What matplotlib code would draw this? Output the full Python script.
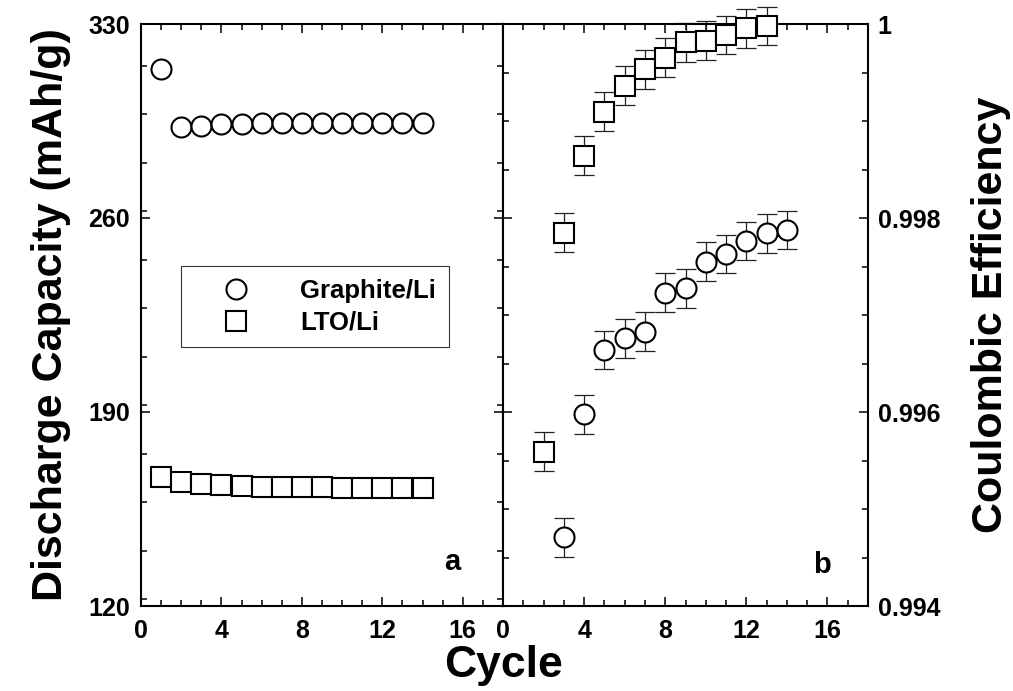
import matplotlib
matplotlib.use("Agg")
import matplotlib.pyplot as plt
from matplotlib.ticker import MultipleLocator, FixedLocator, FixedFormatter
from matplotlib.lines import Line2D

plt.rcParams['font.family'] = ['Liberation Sans', 'DejaVu Sans']
plt.rcParams['font.weight'] = 'bold'

# Panel a: discharge capacity (mAh/g) per cycle
cycles_a = list(range(1, 15))
graphite_capacity = [313.8, 292.9, 293.3, 293.8, 294.0, 294.1, 294.2, 294.2,
                     294.2, 294.2, 294.2, 294.1, 294.1, 294.1]
lto_capacity = [166.4, 164.6, 164.0, 163.6, 163.3, 163.1, 163.0, 162.9,
                162.8, 162.7, 162.6, 162.5, 162.5, 162.4]

# Panel b: coulombic efficiency per cycle with error bars
graphite_ce_cycles = list(range(3, 15))
graphite_ce = [0.994708, 0.995977, 0.996639, 0.996759, 0.996828, 0.997230,
               0.997275, 0.997550, 0.997629, 0.997763, 0.997842, 0.997876]
graphite_ce_err = [0.0002] * 12

lto_ce_cycles = list(range(2, 14))
lto_ce = [0.995591, 0.997848, 0.998642, 0.999096, 0.999364, 0.999533,
          0.999653, 0.999811, 0.999828, 0.999887, 0.999955, 0.999980]
lto_ce_err = [0.0002] * 12

x_ticks = [0, 4, 8, 12, 16]
cap_ticks = [120, 190, 260, 330]
ce_ticks = [0.994, 0.996, 0.998, 1.0]
ce_tick_labels = ['0.994', '0.996', '0.998', '1']

W, H = 1013, 691
fig = plt.figure(figsize=(W / 100, H / 100), dpi=100)

def frac(x0, y0, x1, y1):
    return [x0 / W, 1 - y1 / H, (x1 - x0) / W, (y1 - y0) / H]

ax1 = fig.add_axes(frac(141, 24, 503, 606))
ax2 = fig.add_axes(frac(503, 24, 868, 606))

mk = dict(linestyle='none', markersize=14.4, markerfacecolor='white',
          markeredgecolor='black', markeredgewidth=1.5)

ax1.plot(cycles_a, graphite_capacity, marker='o', clip_on=False, **mk)
ax1.plot(cycles_a, lto_capacity, marker='s', clip_on=False, **mk)

eb = dict(fmt='none', ecolor='#222222', elinewidth=0.9, capsize=7.5,
          capthick=0.9, clip_on=False)
ax2.errorbar(lto_ce_cycles, lto_ce, yerr=lto_ce_err, **eb)
ax2.errorbar(graphite_ce_cycles, graphite_ce, yerr=graphite_ce_err, **eb)
ax2.plot(lto_ce_cycles, lto_ce, marker='s', clip_on=False, zorder=3, **mk)
ax2.plot(graphite_ce_cycles, graphite_ce, marker='o', clip_on=False,
         zorder=3, **mk)

for ax in (ax1, ax2):
    ax.set_xlim(0, 18)
    ax.xaxis.set_major_locator(FixedLocator(x_ticks))
    ax.xaxis.set_minor_locator(MultipleLocator(1))
    for s in ax.spines.values():
        s.set_linewidth(1.5)
    ax.tick_params(which='both', direction='in', top=True, bottom=True,
                   left=True, right=True, width=1.1)
    ax.tick_params(which='major', length=6.5)
    ax.tick_params(which='minor', length=4.3)
    ax.tick_params(axis='x', which='major', labelsize=18, pad=9)

ax1.set_ylim(120, 330)
ax1.yaxis.set_major_locator(FixedLocator(cap_ticks))
ax1.yaxis.set_minor_locator(MultipleLocator(17.5))
ax1.tick_params(axis='y', which='major', labelsize=18, pad=8)
ax1.set_ylabel('Discharge Capacity (mAh/g)', fontsize=31, fontweight='bold',
               labelpad=12)

ax2.set_ylim(0.994, 1.0)
ax2.yaxis.set_major_locator(FixedLocator(ce_ticks))
ax2.yaxis.set_major_formatter(FixedFormatter(ce_tick_labels))
ax2.yaxis.set_minor_locator(MultipleLocator(0.0005))
ax2.tick_params(axis='y', which='major', labelleft=False, labelright=True,
                labelsize=18, pad=7)
ax2.yaxis.set_label_position('right')
ax2.set_ylabel('Coulombic Efficiency', fontsize=31, fontweight='bold',
               labelpad=22)

fig.text(503 / W, 1 - 665 / H, 'Cycle', ha='center', va='center',
         fontsize=32, fontweight='bold')

ax1.text(0.86, 0.075, 'a', transform=ax1.transAxes, fontsize=21,
         fontweight='bold', ha='center', va='center')
ax2.text(0.875, 0.07, 'b', transform=ax2.transAxes, fontsize=21,
         fontweight='bold', ha='center', va='center')

handles = [Line2D([], [], marker='o', **mk), Line2D([], [], marker='s', **mk)]
leg = ax1.legend(handles, ['Graphite/Li', 'LTO/Li'], loc='upper left',
                 bbox_to_anchor=(181 / W, 1 - 266 / H),
                 bbox_transform=fig.transFigure, borderaxespad=0,
                 prop={'size': 18.5, 'weight': 'bold'}, frameon=True,
                 fancybox=False, handlelength=3.3, handletextpad=0.85,
                 borderpad=0.5, labelspacing=0.3)
frame = leg.get_frame()
frame.set_edgecolor('#333333')
frame.set_linewidth(0.8)
frame.set_alpha(1)

fig.savefig('out.png', dpi=100)
